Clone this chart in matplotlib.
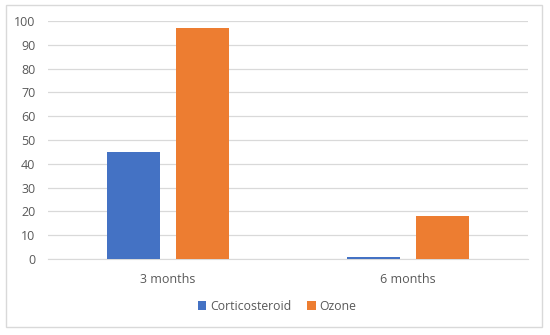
import matplotlib
matplotlib.use("Agg")
import matplotlib.pyplot as plt
from matplotlib.patches import Rectangle
import numpy as np

categories = ["3 months", "6 months"]
series_names = ["Corticosteroid", "Ozone"]
corticosteroid = [45, 1]
ozone = [97, 18]
yticks = [0, 10, 20, 30, 40, 50, 60, 70, 80, 90, 100]

plt.rcParams['font.family'] = ['Open Sans', 'DejaVu Sans']

fig = plt.figure(figsize=(5.5, 3.35), dpi=100)
fig.patch.set_facecolor("white")
fig.patches.append(Rectangle((6/550, 1-327/335), 536/550, 322/335, transform=fig.transFigure,
                             fill=False, edgecolor="#D9D9D9", linewidth=1.0))

ax = fig.add_axes([48/550, 1-259/335, 480/550, 238/335])
x = np.arange(len(categories))
w = 0.221
off = 0.142
ax.bar(x - off, corticosteroid, w, color="#4472C4", label=series_names[0], zorder=3)
ax.bar(x + off, ozone, w, color="#ED7D31", label=series_names[1], zorder=3)

ax.set_xlim(-0.5, 1.5)
ax.set_ylim(0, 100)
ax.set_yticks(yticks)
ax.set_xticks(x)
ax.set_xticklabels(categories)
ax.yaxis.grid(True, color="#D9D9D9", linewidth=0.9, zorder=0)
for s in ["top", "right", "left"]:
    ax.spines[s].set_visible(False)
ax.spines["bottom"].set_color("#D9D9D9")
ax.tick_params(axis="both", length=0, labelsize=9, colors="#595959", pad=9)
ax.tick_params(axis="x", pad=10)

leg = fig.legend(loc="center", bbox_to_anchor=(277/550, 1-306/335), ncol=2, frameon=False,
                 fontsize=8.8, handlelength=0.7, handleheight=0.7, handletextpad=0.3, columnspacing=1.3)
for t in leg.get_texts():
    t.set_color("#595959")

fig.savefig("out.png", dpi=100)
